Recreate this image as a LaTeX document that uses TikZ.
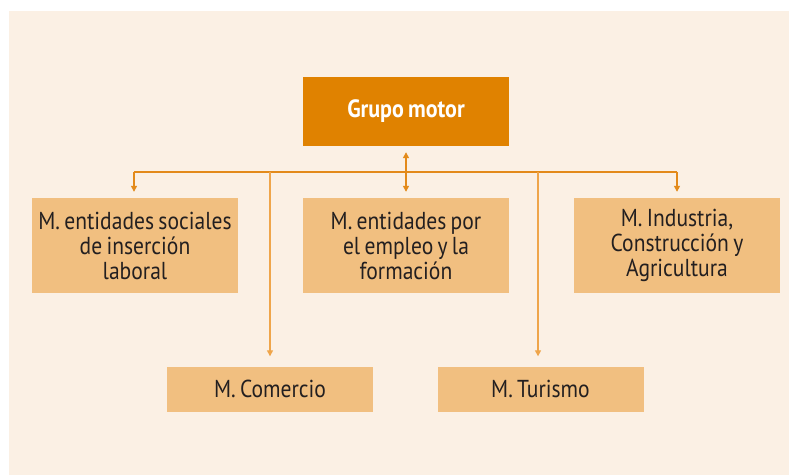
\documentclass[tikz,border=0pt]{standalone}
\usepackage{fontspec}
\setmainfont[FakeStretch=0.88, WordSpace=0.75]{PT Sans}
\usepackage{tikz}
\usetikzlibrary{positioning, arrows.meta}

\definecolor{fondo}{HTML}{FBF0E4}
\definecolor{naranja}{HTML}{E08200}
\definecolor{caja}{HTML}{F1BF80}
\definecolor{linea}{HTML}{E38A1A}
\definecolor{lineaclara}{HTML}{EFA54A}
\definecolor{texto}{HTML}{231F20}

\tikzset{
  mesa/.style={rectangle, fill=caja, text=texto, minimum width=206pt,
    align=center, font=\fontsize{24.5}{25}\selectfont, inner sep=0pt},
  flecha/.style={draw=linea, line width=1.3pt, -{Triangle[length=6pt,width=6pt]}},
}

\begin{document}
\begin{tikzpicture}[x=1pt,y=-1pt]
	\fill[white] (0,0) rectangle (789,475);
	\fill[fondo] (9,11) rectangle (789,475);
	\useasboundingbox (0,0) rectangle (789,475);

	\node[rectangle, fill=naranja, text=white, minimum width=206pt, minimum height=69pt,
	  font=\fontsize{25}{25}\selectfont\bfseries] (grupo) at (406,111.5) {Grupo motor};
	\node[mesa, minimum height=95pt] (sociales) at (135,245.5)
		{M. entidades sociales\\de inserción\\laboral};
	\node[mesa, minimum height=95pt] (empleo) at (406,245.5)
		{M. entidades por\\el empleo y la\\formación};
	\node[mesa, minimum height=95pt] (industria) at (677,245.5)
		{M. Industria,\\Construcción y\\Agricultura};
	\node[mesa, minimum height=45pt] (comercio) at (270,389) {M. Comercio};
	\node[mesa, minimum height=45pt] (turismo) at (540.5,389) {M. Turismo};

	\coordinate (busL) at (134,172);
	\coordinate (busR) at (677,172);
	\coordinate (busT) at (538,172);
	\draw[draw=linea, line width=1.3pt] (busL) -- (busR);
	\draw[flecha, shorten >=6pt] (busL) -- (sociales.north -| busL);
	\draw[flecha, shorten >=6pt] (busR) -- (industria.north);
	\draw[flecha, {Triangle[length=6pt,width=6pt]}-{Triangle[length=6pt,width=6pt]},
	  shorten <=6pt, shorten >=6pt] (grupo.south) -- (empleo.north);
	\draw[flecha, draw=lineaclara, shorten >=10pt] (comercio.north |- busL) -- (comercio.north);
	\draw[flecha, draw=lineaclara, shorten >=10pt] (busT) -- (turismo.north -| busT);
\end{tikzpicture}
\end{document}
